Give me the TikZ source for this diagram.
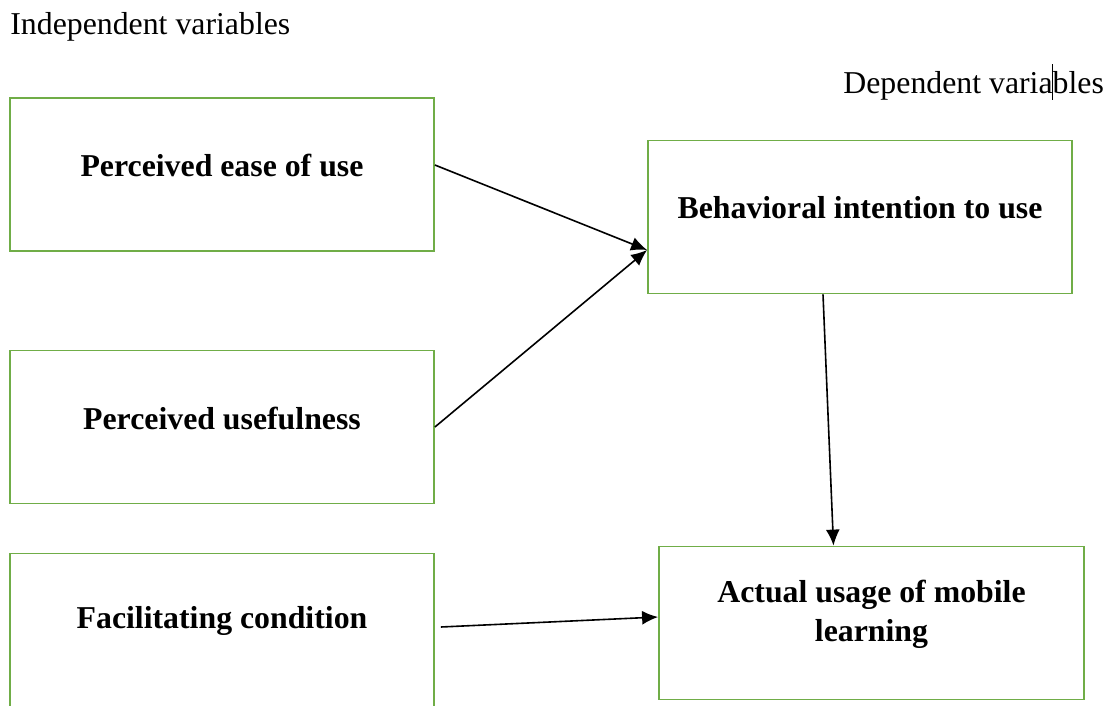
\documentclass[tikz,border=0pt]{standalone}
\usepackage{fontspec}
\setmainfont{Liberation Serif}
\usetikzlibrary{arrows.meta}
\definecolor{boxgreen}{RGB}{112,173,71}

\begin{document}
\begin{tikzpicture}[x=1pt, y=-1pt, thick,
  var/.style = {draw=boxgreen, line width=1.8pt, minimum width=424pt, minimum height=153pt},
  lbl/.style = {font=\fontsize{31.8}{39}\selectfont\bfseries, align=center, yshift=9pt},
  conn/.style = {line width=1.6pt, -{Latex[length=16pt,width=14pt]}}]
\useasboundingbox (0,0) rectangle (1109,705);
\node[anchor=base west, inner sep=0, font=\fontsize{31.8}{39}\selectfont] (indep) at (10,34) {Independent variables};
\node[anchor=base west, inner sep=0, font=\fontsize{31.8}{39}\selectfont] (dep) at (843,93) {Dependent variables};
\coordinate (cursortop) at (1052,64);
\coordinate (cursorbot) at (1052,100);
\draw[line width=0.8pt] (cursortop) -- (cursorbot);
\node[var] (pe) at (222,174.5) {};
\node[var] (pu) at (222,427) {};
\node[var] (fc) at (222,630) {};
\node[var] (bi) at (860,217) {};
\node[var, minimum width=425pt] (au) at (871.5,623) {};
\node[lbl] (pelbl) at (pe.center) {Perceived ease of use};
\node[lbl] (pulbl) at (pu.center) {Perceived usefulness};
\node[lbl] (fclbl) at (fc.center) {Facilitating condition};
\node[lbl] (bilbl) at (bi.center) {Behavioral intention to use};
\node[lbl] (aulbl) at (au.center) {Actual usage of mobile\\learning};
\draw[conn] ([yshift=9.5pt]pe.east) -- ([yshift=-33pt]bi.west);
\draw[conn] (pu.east) -- ([yshift=-33pt]bi.west);
\draw[conn] ([xshift=-37pt]bi.south) -- ([xshift=-38pt]au.north);
\draw[conn] ([xshift=6pt,yshift=3pt]fc.east) -- ([yshift=6pt]au.west);
\end{tikzpicture}
\end{document}
